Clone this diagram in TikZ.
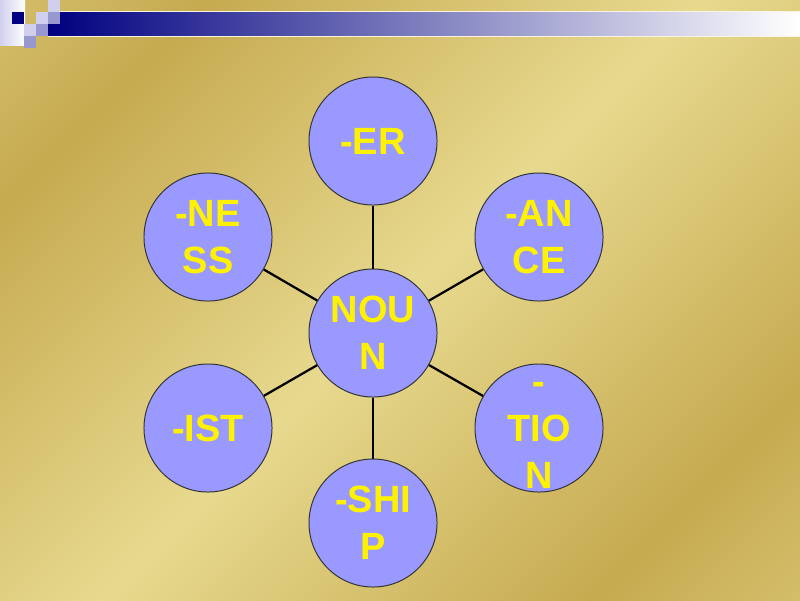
\documentclass[tikz,border=0pt]{standalone}
\usepackage{fontspec}
\setmainfont{Liberation Sans}
\usetikzlibrary{positioning, calc}

\definecolor{goldlt}{RGB}{231,217,142}
\definecolor{golddk}{RGB}{198,170,80}
\definecolor{bubble}{RGB}{153,153,255}
\definecolor{navybar}{RGB}{0,0,128}
\definecolor{tilelt}{RGB}{208,208,238}
\definecolor{tilemd}{RGB}{152,152,208}
\pgfdeclarehorizontalshading{goldwash}{100bp}{color(0bp)=(goldlt); color(25bp)=(golddk); color(50bp)=(goldlt); color(75bp)=(golddk); color(100bp)=(goldlt)}

\begin{document}
\begin{tikzpicture}[
  x=0.025cm, y=-0.025cm,
  suffix/.style={draw=black!80, line width=0.7pt, circle, fill=bubble, minimum size=3.2cm, inner sep=0pt, text=yellow, font=\fontsize{27}{33.4}\selectfont\bfseries, align=center},
  spoke/.style={line width=1.6pt, black},
  tile/.style={fill=#1, draw=none}
]
\useasboundingbox (0,0) rectangle (800,600);

% Background and title bar
\shade[shading=goldwash, shading angle=-45] (0,0) rectangle (800,600);
\shade[left color=navybar, right color=white] (48,12) rectangle (800,36);
\draw[white!70!goldlt, line width=0.5pt] (48,11.5) -- (800,11.5) (48,36.5) -- (800,36.5);

% Corner tiles
\shade[left color=tilelt, right color=white] (0,0) rectangle (25,45);
\fill[tile=navybar] (12,12) rectangle (24,24);
\fill[tile=tilelt] (36,12) rectangle (48,24);
\fill[tile=tilelt] (48,0) rectangle (60,12);
\fill[tile=tilemd] (48,12) rectangle (60,24);
\fill[tile=tilelt] (24,24) rectangle (36,36);
\fill[tile=tilemd] (36,24) rectangle (48,36);
\fill[tile=tilemd] (24,36) rectangle (36,48);

% Suffix wheel
\node[suffix] (noun) at (373,333) {NOU\\N};
\node[suffix] (er)   at (373,141) {-ER};
\node[suffix] (ance) at (539,237) {-AN\\CE};
\node[suffix] (tion) at (539,428) {\raisebox{-42.7pt}[0pt][0pt]{\begin{tabular}[b]{@{}c@{}}-\\TIO\\N\end{tabular}}};
\node[suffix] (ship) at (373,523) {-SHI\\P};
\node[suffix] (ist)  at (208,428) {-IST};
\node[suffix] (ness) at (208,237) {-NE\\SS};

% Spokes
\foreach \s in {er, ance, tion, ship, ist, ness}
  \draw[spoke] (noun) -- (\s);

\end{tikzpicture}
\end{document}
